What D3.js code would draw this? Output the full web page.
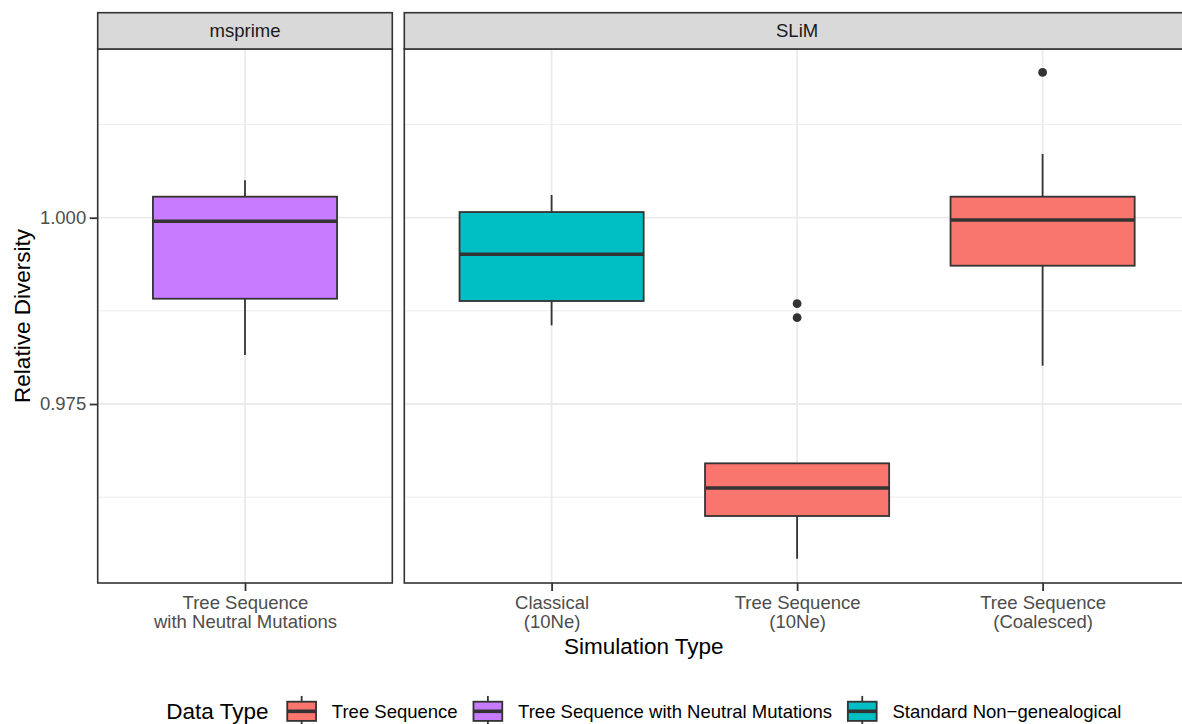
<!DOCTYPE html>
<html>
<head>
<meta charset="utf-8">
<script src="https://cdn.jsdelivr.net/npm/d3@7"></script>
<style>
  html, body { margin: 0; padding: 0; background: #fff; overflow: hidden; }
  svg { display: block; }
  text { font-family: "Liberation Sans", Arial, Helvetica, sans-serif; }
</style>
</head>
<body>
<svg id="chart" width="1200" height="724"></svg>
<script>
// Facets and the simulation types shown in each one
const facets = ["msprime", "SLiM"];
const facetCategories = [
  ["Tree Sequence\nwith Neutral Mutations"],
  ["Classical\n(10Ne)", "Tree Sequence\n(10Ne)", "Tree Sequence\n(Coalesced)"]
];

// Box summaries, one entry per box (facet index, category, data type)
const boxFacet    = [0, 1, 1, 1];
const boxCategory = ["Tree Sequence\nwith Neutral Mutations", "Classical\n(10Ne)", "Tree Sequence\n(10Ne)", "Tree Sequence\n(Coalesced)"];
const boxType     = ["Tree Sequence with Neutral Mutations", "Standard Non\u2212genealogical", "Tree Sequence", "Tree Sequence"];
const whiskerLow  = [0.98158, 0.98556, 0.95424, 0.98014];
const quartile1   = [0.98913, 0.98882, 0.95997, 0.99356];
const medians     = [0.99952, 0.99509, 0.96373, 0.99969];
const quartile3   = [1.00282, 1.00076, 0.96704, 1.00282];
const whiskerHigh = [1.00502, 1.00305, 0.96704, 1.00856];
const outliers    = [[], [], [0.98846, 0.98658], [1.01950]];

// Legend entries and fills
const dataTypes = ["Tree Sequence", "Tree Sequence with Neutral Mutations", "Standard Non\u2212genealogical"];
const typeColors = ["#F8766D", "#C77CFF", "#00BFC4"];

// Y axis
const yLimits = [0.95098, 1.02264];
const yMajorTicks = [0.975, 1.000];
const yMinorTicks = [0.9625, 0.9875, 1.0125];

const svg = d3.select("#chart");

const panelTop = 49, panelBottom = 583, stripTop = 12.7;
const panelLeft = 97.7, panelGap = 12, unit = 245.5;
const expandUnits = 0.6, boxWidthUnits = 0.75;

const y = d3.scaleLinear().domain(yLimits).range([panelBottom, panelTop]);
const color = d3.scaleOrdinal().domain(dataTypes).range(typeColors);

// Panel extents follow the number of categories (free space)
let cursor = panelLeft;
const panels = facets.map((name, i) => {
  const n = facetCategories[i].length;
  const w = (n - 1 + 2 * expandUnits) * unit;
  const x = d3.scalePoint().domain(facetCategories[i]).range([cursor, cursor + w]).padding(expandUnits);
  const p = { name, x0: cursor, x1: cursor + w, x };
  cursor += w + panelGap;
  return p;
});

const ink = "#333333";

panels.forEach((p, pi) => {
  const g = svg.append("g");
  // background grid
  yMinorTicks.forEach(v => {
    g.append("line").attr("x1", p.x0).attr("x2", p.x1).attr("y1", y(v)).attr("y2", y(v))
      .attr("stroke", "#EBEBEB").attr("stroke-width", 0.9);
  });
  yMajorTicks.forEach(v => {
    g.append("line").attr("x1", p.x0).attr("x2", p.x1).attr("y1", y(v)).attr("y2", y(v))
      .attr("stroke", "#EBEBEB").attr("stroke-width", 1.8);
  });
  p.x.domain().forEach(c => {
    g.append("line").attr("x1", p.x(c)).attr("x2", p.x(c)).attr("y1", panelTop).attr("y2", panelBottom)
      .attr("stroke", "#EBEBEB").attr("stroke-width", 1.8);
  });

  // boxes
  boxCategory.forEach((c, i) => {
    if (boxFacet[i] !== pi) return;
    const cx = p.x(c);
    const half = boxWidthUnits * unit / 2;
    g.append("line").attr("x1", cx).attr("x2", cx).attr("y1", y(quartile3[i])).attr("y2", y(whiskerHigh[i]))
      .attr("stroke", ink).attr("stroke-width", 1.8);
    g.append("line").attr("x1", cx).attr("x2", cx).attr("y1", y(quartile1[i])).attr("y2", y(whiskerLow[i]))
      .attr("stroke", ink).attr("stroke-width", 1.8);
    g.append("rect").attr("x", cx - half).attr("width", 2 * half)
      .attr("y", y(quartile3[i])).attr("height", y(quartile1[i]) - y(quartile3[i]))
      .attr("fill", color(boxType[i])).attr("stroke", ink).attr("stroke-width", 1.8);
    g.append("line").attr("x1", cx - half).attr("x2", cx + half).attr("y1", y(medians[i])).attr("y2", y(medians[i]))
      .attr("stroke", ink).attr("stroke-width", 3.6);
    outliers[i].forEach(v => {
      g.append("circle").attr("cx", cx).attr("cy", y(v)).attr("r", 4.4).attr("fill", ink);
    });
  });

  // panel border
  g.append("rect").attr("x", p.x0).attr("y", panelTop).attr("width", p.x1 - p.x0).attr("height", panelBottom - panelTop)
    .attr("fill", "none").attr("stroke", ink).attr("stroke-width", 1.6);

  // strip
  g.append("rect").attr("x", p.x0).attr("y", stripTop).attr("width", p.x1 - p.x0).attr("height", panelTop - stripTop)
    .attr("fill", "#D9D9D9").attr("stroke", ink).attr("stroke-width", 1.6);
  g.append("text").attr("x", (p.x0 + p.x1) / 2).attr("y", (stripTop + panelTop) / 2)
    .attr("text-anchor", "middle").attr("dominant-baseline", "central")
    .attr("font-size", 18.5).attr("fill", "#1A1A1A").text(p.name);

  // x axis ticks and labels
  const xa = g.append("g").attr("transform", `translate(0,${panelBottom})`)
    .call(d3.axisBottom(p.x).tickSize(8).tickSizeOuter(0).tickFormat(() => ""));
  xa.select(".domain").remove();
  xa.selectAll(".tick line").attr("stroke", ink).attr("stroke-width", 1.8);
  xa.selectAll(".tick").each(function (c) {
    const t = d3.select(this).append("text").attr("text-anchor", "middle")
      .attr("font-size", 18.5).attr("fill", "#4D4D4D");
    c.split("\n").forEach((line, li) => {
      t.append("tspan").attr("x", 0).attr("y", 25.5 + li * 19.5).text(line);
    });
  });
});

// y axis on the first panel
const ya = svg.append("g").attr("transform", `translate(${panelLeft},0)`)
  .call(d3.axisLeft(y).tickValues(yMajorTicks).tickSize(8).tickFormat(d3.format(".3f")));
ya.select(".domain").remove();
ya.selectAll(".tick line").attr("stroke", ink).attr("stroke-width", 1.8);
ya.selectAll(".tick text").attr("x", -11.5).attr("font-size", 18.5).attr("fill", "#4D4D4D")
  .attr("font-family", "'Liberation Sans', Arial, sans-serif");

// axis titles
const plotCenter = (panels[0].x0 + panels[panels.length - 1].x1) / 2;
svg.append("text").attr("x", plotCenter).attr("y", 654).attr("text-anchor", "middle")
  .attr("font-size", 22.5).attr("fill", "#000").text("Simulation Type");
svg.append("text").attr("transform", `translate(30,${(panelTop + panelBottom) / 2}) rotate(-90)`)
  .attr("text-anchor", "middle").attr("font-size", 22.5).attr("fill", "#000").text("Relative Diversity");

// legend
const legY = 711.3, keySize = 38.4;
const leg = svg.append("g");
const title = leg.append("text").attr("x", 0).attr("y", legY).attr("dominant-baseline", "central")
  .attr("font-size", 22.5).attr("fill", "#000").text("Data Type");
let lx = title.node().getComputedTextLength() + 14;
dataTypes.forEach((dt, i) => {
  const k = leg.append("g").attr("transform", `translate(${lx},${legY - keySize / 2})`);
  k.append("line").attr("x1", keySize / 2).attr("x2", keySize / 2).attr("y1", keySize * 0.1).attr("y2", keySize * 0.9)
    .attr("stroke", ink).attr("stroke-width", 1.8);
  k.append("rect").attr("x", keySize * 0.125).attr("width", keySize * 0.75)
    .attr("y", keySize * 0.25).attr("height", keySize * 0.5)
    .attr("fill", typeColors[i]).attr("stroke", ink).attr("stroke-width", 1.8);
  k.append("line").attr("x1", keySize * 0.125).attr("x2", keySize * 0.875).attr("y1", keySize / 2).attr("y2", keySize / 2)
    .attr("stroke", ink).attr("stroke-width", 3.6);
  lx += keySize + 11;
  const t = leg.append("text").attr("x", lx).attr("y", legY).attr("dominant-baseline", "central")
    .attr("font-size", 18.5).attr("fill", "#000").text(dt);
  lx += t.node().getComputedTextLength() + (i < dataTypes.length - 1 ? 11 : 0);
});
leg.attr("transform", `translate(${plotCenter - lx / 2},0)`);
</script>
</body>
</html>
